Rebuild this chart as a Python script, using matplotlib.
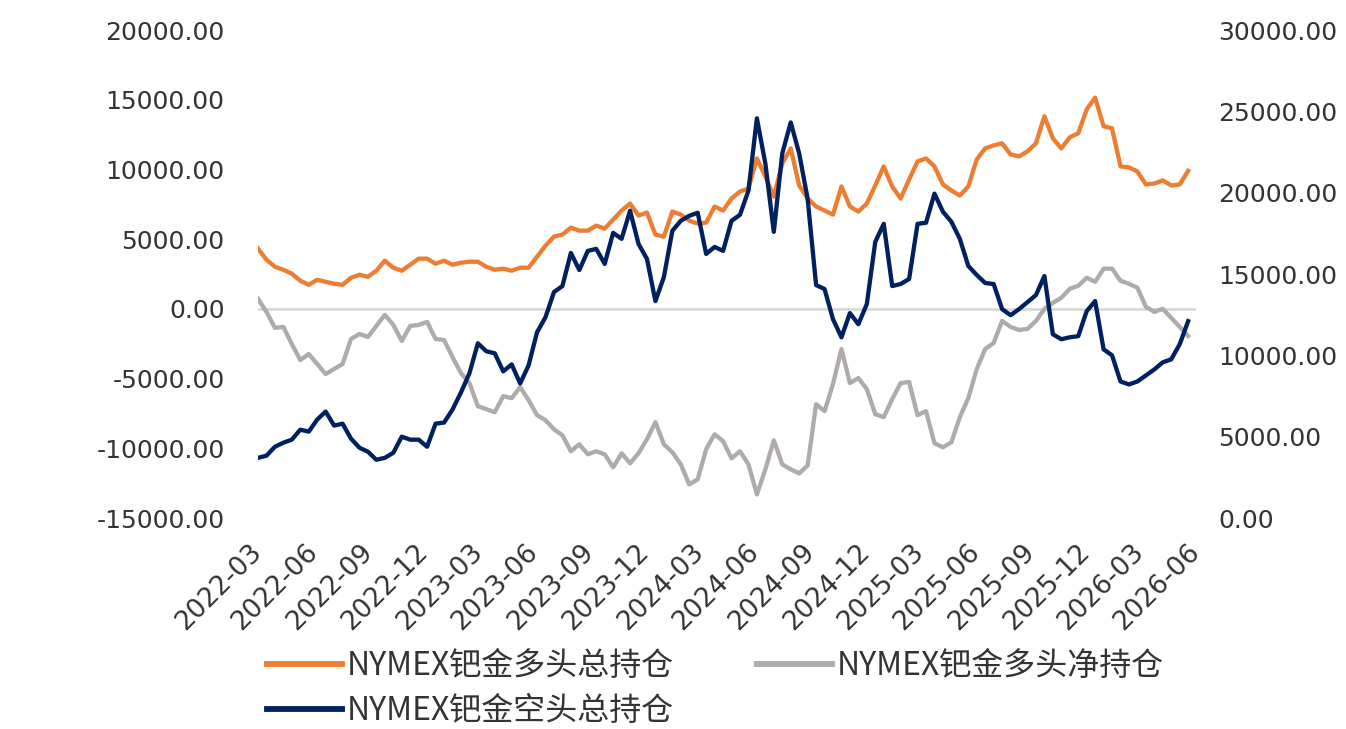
import numpy as np
import pandas as pd
import matplotlib
matplotlib.use("Agg")
from matplotlib import pyplot as plt
import matplotlib.dates as mdates

plt.rcParams['font.family'] = ['DejaVu Sans', 'Noto Sans CJK SC']

dates = pd.date_range('2022-03-01', periods=111, freq='14D')

# NYMEX palladium long total (left axis)
longTotal = [
    4320, 3525, 3020, 2805, 2520, 2015, 1725, 2085, 1940, 1800,
    1725, 2230, 2445, 2300, 2735, 3455, 2950, 2735, 3165, 3600,
    3600, 3235, 3455, 3165, 3310, 3380, 3380, 3020, 2805, 2880,
    2735, 2950, 2950, 3740, 4530, 5180, 5325, 5825, 5610, 5610,
    5970, 5755, 6400, 7050, 7555, 6690, 6905, 5325, 5180, 6980,
    6760, 6330, 6115, 6185, 7340, 7050, 7915, 8415, 8635, 10790,
    9495, 8055, 10430, 11510, 8850, 7915, 7340, 7050, 6760, 8775,
    7340, 6980, 7555, 8850, 10215, 8775, 7915, 9280, 10575, 10790,
    10215, 8920, 8490, 8130, 8775, 10720, 11510, 11725, 11870, 11080,
    10935, 11295, 11870, 13810, 12230, 11510, 12300, 12590, 14300, 15150,
    13095, 12950, 10215, 10145, 9855, 8920, 8990, 9210, 8850, 8920,
    9900]

# NYMEX palladium short total (right axis)
shortTotal = [
    3700, 3830, 4380, 4630, 4815, 5430, 5310, 6050, 6545, 5680,
    5800, 4875, 4320, 4075, 3580, 3700, 4010, 5000, 4815, 4815,
    4380, 5800, 5865, 6665, 7715, 8890, 10740, 10250, 10125, 9015,
    9445, 8270, 9385, 11420, 12345, 13890, 14260, 16295, 15245, 16420,
    16545, 15620, 17530, 17160, 18890, 16850, 15925, 13335, 14815, 17655,
    18270, 18580, 18765, 16235, 16665, 16420, 18270, 18640, 20125, 24570,
    21790, 17590, 22410, 24320, 22410, 19630, 14320, 14075, 12220, 11110,
    12595, 11915, 13150, 16975, 18085, 14260, 14385, 14690, 18085, 18150,
    19940, 18830, 18210, 17160, 15495, 14940, 14445, 14385, 12840, 12470,
    12840, 13270, 13705, 14875, 11295, 10990, 11110, 11175, 12715, 13335,
    10370, 10000, 8395, 8210, 8395, 8765, 9135, 9570, 9755, 10680,
    12100]

# NYMEX palladium net long (left axis)
netLong = [
    720, -215, -1365, -1295, -2520, -3670, -3240, -3955, -4675, -4315,
    -3955, -2160, -1800, -2015, -1225, -430, -1150, -2300, -1225, -1150,
    -935, -2160, -2230, -3455, -4605, -5325, -6980, -7195, -7410, -6260,
    -6405, -5610, -6545, -7625, -7985, -8635, -9065, -10215, -9710, -10430,
    -10215, -10430, -11365, -10360, -11080, -10360, -9350, -8130, -9710, -10285,
    -11150, -12590, -12230, -10070, -8990, -9495, -10720, -10215, -11150, -13310,
    -11510, -9425, -11150, -11510, -11800, -11225, -6835, -7340, -5395, -2880,
    -5325, -4965, -5755, -7555, -7770, -6475, -5325, -5250, -7625, -7340,
    -9640, -9930, -9570, -7770, -6405, -4315, -2880, -2445, -865, -1295,
    -1510, -1440, -865, 0, 430, 790, 1440, 1655, 2230, 1940,
    2880, 2880, 2015, 1800, 1510, 145, -215, 0, -650, -1295,
    -1940]

labels = ['NYMEX钯金多头总持仓', 'NYMEX钯金空头总持仓', 'NYMEX钯金多头净持仓']
colors = ['#ED7D31', '#002060', '#AFABAB']
textColor = '#333333'

W, H = 1346, 729
fig = plt.figure(figsize=(W / 100, H / 100), dpi=100)
ax = fig.add_axes([258 / W, 1 - 518 / H, (1196 - 258) / W, (518 - 30) / H])
ax2 = ax.twinx()

ax.axhline(0, color='#D9D9D9', lw=2, zorder=1)
l1, = ax.plot(dates, longTotal, color=colors[0], lw=3.1, zorder=3)
l3, = ax.plot(dates, netLong, color=colors[2], lw=3.1, zorder=2)
l2, = ax2.plot(dates, shortTotal, color=colors[1], lw=3.1)

ax.set_ylim(-15000, 20000)
ax.set_yticks(np.arange(-15000, 20001, 5000))
ax2.set_ylim(0, 30000)
ax2.set_yticks(np.arange(0, 30001, 5000))
fmt = matplotlib.ticker.FormatStrFormatter('%.2f')
ax.yaxis.set_major_formatter(fmt)
ax2.yaxis.set_major_formatter(fmt)

ax.set_xlim(pd.Timestamp('2022-03-01'), pd.Timestamp('2026-06-01'))
ax.xaxis.set_major_locator(mdates.MonthLocator(bymonth=[3, 6, 9, 12]))
ax.xaxis.set_major_formatter(mdates.DateFormatter('%Y-%m'))

for a in (ax, ax2):
    for s in a.spines.values():
        s.set_visible(False)
ax.tick_params(axis='y', length=0, pad=24, labelsize=18, labelcolor=textColor)
ax2.tick_params(axis='y', length=0, pad=16, labelsize=18, labelcolor=textColor)
ax.tick_params(axis='x', length=0, pad=22, labelsize=19, labelcolor=textColor)
for t in ax.get_xticklabels():
    t.set_rotation(45)
    t.set_ha('right')
    t.set_va('center')
    t.set_rotation_mode('anchor')

fig.legend([l1, l2, l3], labels, loc='upper left',
           bbox_to_anchor=(267 / W, 1 - 650 / H), ncol=2, frameon=False,
           prop={'family': 'Noto Sans CJK SC', 'size': 23},
           handlelength=2.35, handletextpad=0.15, columnspacing=2.6,
           labelspacing=0.4, borderaxespad=0, borderpad=0)
for t in fig.legends[0].get_texts():
    t.set_color(textColor)
for h in fig.legends[0].get_lines():
    h.set_linewidth(4.2)

fig.savefig('out.png', dpi=100)
